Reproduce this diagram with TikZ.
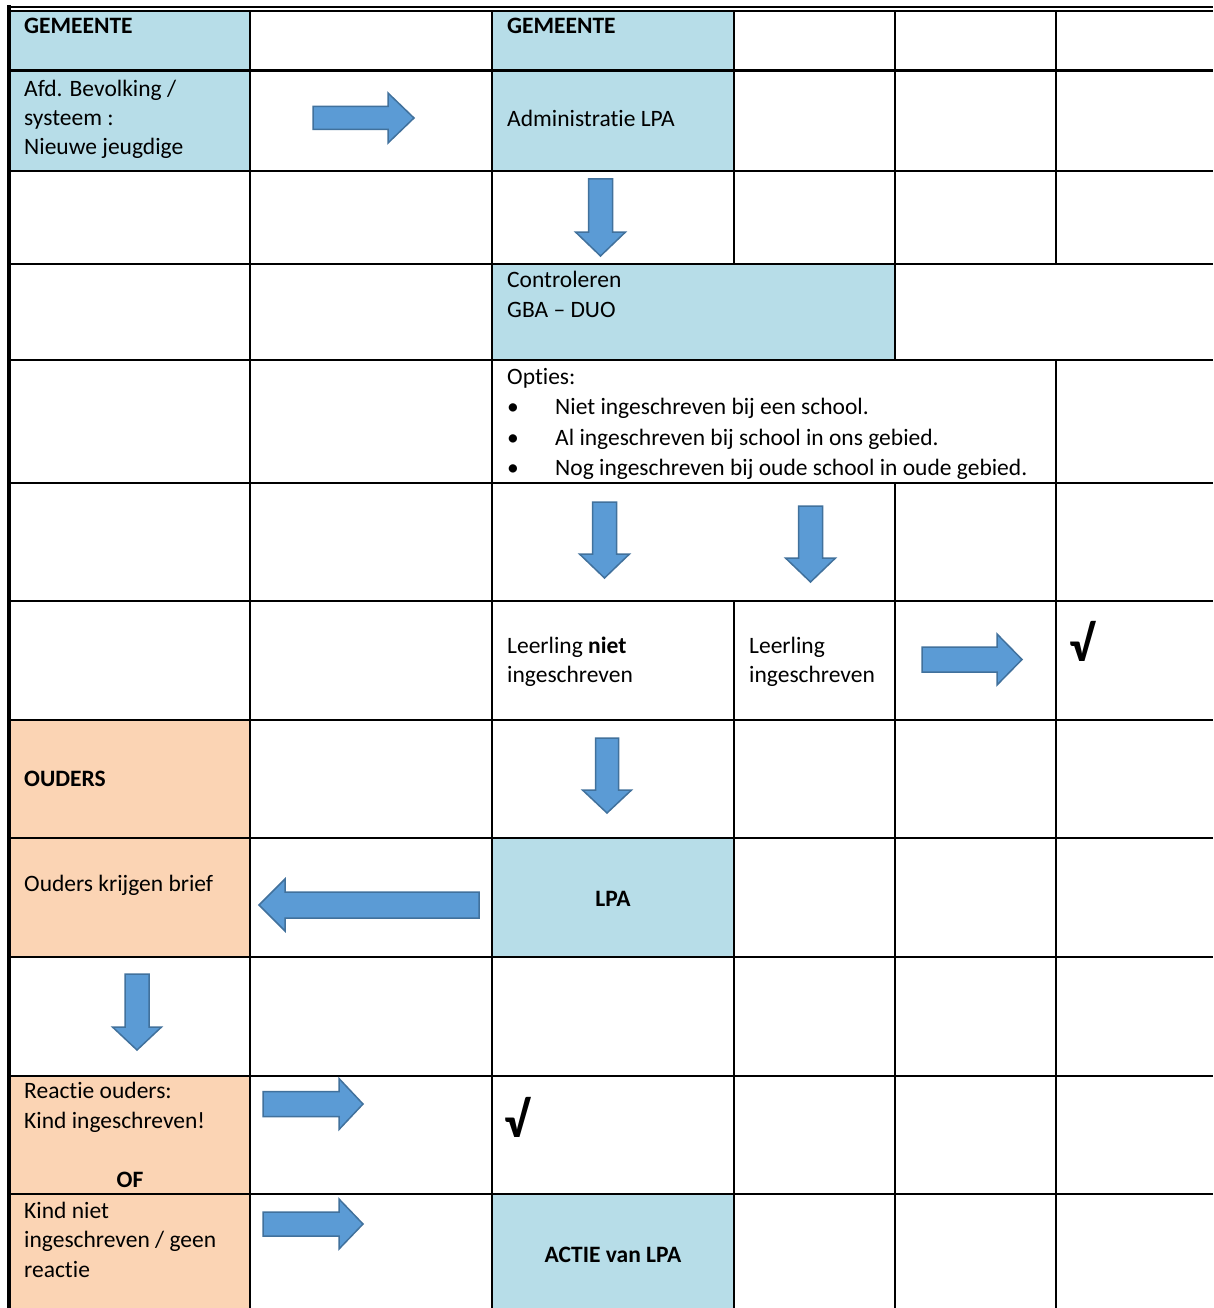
\documentclass[tikz,border=0pt]{standalone}
\usepackage{fontspec}
\setmainfont[Ligatures={NoCommon,NoContextual,NoRequired},RawFeature={-liga;-clig;-dlig;-calt}]{Carlito}
\definecolor{cellblue}{HTML}{B7DDE8}
\definecolor{cellorange}{HTML}{FBD4B4}
\definecolor{arrowfill}{HTML}{5B9BD5}
\definecolor{arrowline}{HTML}{41719C}
\tikzset{
  gridline/.style={line width=2pt, black},
  heavyline/.style={line width=3pt, black},
  blockarrow/.style={fill=arrowfill, draw=arrowline, line width=1.5pt, line join=miter},
  txt/.style={anchor=base west, inner sep=0pt, font=\fontsize{23.5}{29}\selectfont},
  btxt/.style={anchor=base west, inner sep=0pt, font=\fontsize{23.5}{29}\selectfont\bfseries},
  ctxt/.style={anchor=base, inner sep=0pt, font=\fontsize{23.5}{29}\selectfont\bfseries},
  checkmark/.style={anchor=base west, inner sep=0pt, font=\fontsize{50}{54}\selectfont\bfseries},
}
% right/left block arrow: x0 (tail), x1 (head base), xt (tip), yc, half shaft, half head
\newcommand\HorizBA[6]{%
  \draw[blockarrow] (#1,#4-#5) -- (#2,#4-#5) -- (#2,#4-#6) -- (#3,#4) -- (#2,#4+#6) -- (#2,#4+#5) -- (#1,#4+#5) -- cycle;}
% down block arrow: xc, y0 (tail), y1 (head base), yt (tip), half shaft, half head
\newcommand\DownBA[6]{%
  \draw[blockarrow] (#1-#5,#2) -- (#1+#5,#2) -- (#1+#5,#3) -- (#1+#6,#3) -- (#1,#4) -- (#1-#6,#3) -- (#1-#5,#3) -- cycle;}
\begin{document}
\begin{tikzpicture}[x=1pt,y=-1pt]
\useasboundingbox (0,0) rectangle (1213,1308);
% ---------- fills ----------
\fill[white] (0,0) rectangle (1213,1308);
\fill[cellblue] (11,11) rectangle (250,171);
\fill[cellblue] (492,11) rectangle (734,171);
\fill[cellblue] (492,264) rectangle (895,360);
\fill[cellblue] (492,838) rectangle (734,957);
\fill[cellblue] (492,1194) rectangle (734,1308);
\fill[cellorange] (11,720) rectangle (250,957);
\fill[cellorange] (11,1076) rectangle (250,1308);
% ---------- horizontal rules ----------
\draw[line width=1.3pt] (7,7) -- (1213,7);
\draw[gridline] (9,11) -- (1213,11);
\draw[heavyline] (9,71) -- (1213,71);
\foreach \yy in {171,264,360,483,601,720,838,957,1076,1194}
  \draw[gridline] (9,\yy) -- (1213,\yy);
% ---------- vertical rules ----------
\draw[line width=4pt] (9,5.5) -- (9,1308);
\draw[gridline] (250,11) -- (250,1308);
\draw[gridline] (492,11) -- (492,1308);
\draw[gridline] (734,11) -- (734,264);
\draw[gridline] (734,601) -- (734,1308);
\draw[gridline] (895,11) -- (895,360);
\draw[gridline] (895,483) -- (895,1308);
\draw[gridline] (1056,11) -- (1056,264);
\draw[gridline] (1056,360) -- (1056,1308);
% ---------- texts ----------
\node[btxt] (g1) at (24,34) {GEMEENTE};
\node[btxt] (g2) at (507,34) {GEMEENTE};
\node[txt] (afd1) at (24,97) {Afd. Bevolking /};
\node[txt] (afd2) at (24,126) {systeem :};
\node[txt] (afd3) at (24,155) {Nieuwe jeugdige};
\node[txt] (adm) at (507,127) {Administratie LPA};
\node[txt] (ctl1) at (507,287) {Controleren};
\node[txt] (ctl2) at (507,317) {GBA – DUO};
\node[txt] (opt) at (507,384) {Opties:};
\node[txt] (b1) at (507,414) {•};
\node[txt] (b2) at (507,445) {•};
\node[txt] (b3) at (507,475) {•};
\node[txt] (o1) at (555,414) {Niet ingeschreven bij een school.};
\node[txt] (o2) at (555,445) {Al ingeschreven bij school in ons gebied.};
\node[txt] (o3) at (555,475) {Nog ingeschreven bij oude school in oude gebied.};
\node[txt] (ln1) at (507,653) {Leerling \textbf{niet}};
\node[txt] (ln2) at (507,682) {ingeschreven};
\node[txt] (li1) at (749,653) {Leerling};
\node[txt] (li2) at (749,682) {ingeschreven};
\node[checkmark] (chk1) at (1069,661) {√};
\node[btxt] (ouders) at (24,786) {OUDERS};
\node[txt] (brief) at (24,891) {Ouders krijgen brief};
\node[ctxt] (lpa) at (613,906) {LPA};
\node[txt] (r1) at (24,1098) {Reactie ouders:};
\node[txt] (r2) at (24,1128) {Kind ingeschreven!};
\node[ctxt] (of) at (130,1187) {OF};
\node[checkmark] (chk2) at (504,1137) {√};
\node[txt] (k1) at (24,1218) {Kind niet};
\node[txt] (k2) at (24,1247) {ingeschreven / geen};
\node[txt] (k3) at (24,1277) {reactie};
\node[ctxt] (actie) at (613,1262) {ACTIE van LPA};
% ---------- block arrows ----------
\HorizBA{313}{388}{414}{118}{11.5}{25}
\DownBA{600.5}{179}{232}{256}{12}{25}
\DownBA{604.5}{502}{554}{578}{12}{25}
\DownBA{810.5}{506}{558}{582}{12}{25}
\HorizBA{922}{997}{1022}{659.5}{12.5}{25.5}
\DownBA{607}{738}{790}{813}{11.5}{24.5}
\HorizBA{479}{285}{259}{905}{13}{26}
\DownBA{137}{974}{1027}{1050}{12}{24.5}
\HorizBA{263}{339}{363}{1104}{12.5}{25.5}
\HorizBA{263}{339}{363}{1224}{12}{25}
\end{tikzpicture}
\end{document}
